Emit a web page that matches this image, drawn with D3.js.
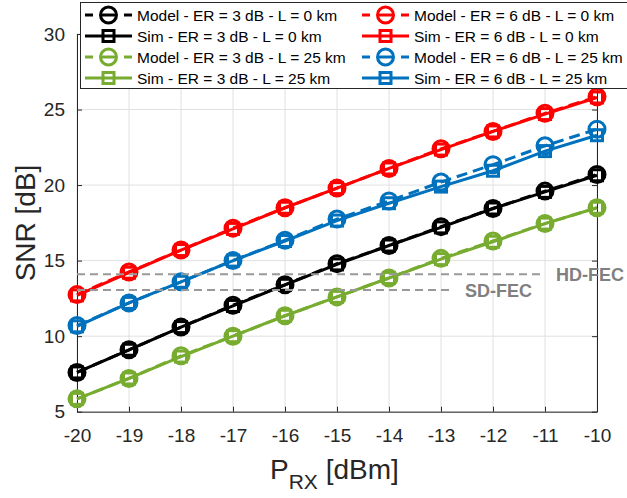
<!DOCTYPE html>
<html><head><meta charset="utf-8">
<script src="https://cdn.jsdelivr.net/npm/d3@7/dist/d3.min.js"></script>
<style>body{margin:0;background:#fff;} svg{display:block;font-family:"Liberation Sans",Arial,Helvetica,sans-serif;}</style>
</head><body><svg id="c" width="627" height="498"></svg>
<script>
const pRx = [-20, -19, -18, -17, -16, -15, -14, -13, -12, -11, -10];
const xTicks = [-20, -19, -18, -17, -16, -15, -14, -13, -12, -11, -10];
const yTicks = [5, 10, 15, 20, 25, 30];
const modelER3L0  = [7.6, 9.1, 10.6, 12.05, 13.4, 14.8, 16.0, 17.25, 18.45, 19.6, 20.7];
const simER3L0    = [7.6, 9.1, 10.6, 12.0, 13.4, 14.75, 16.0, 17.2, 18.45, 19.55, 20.65];
const modelER3L25 = [5.85, 7.2, 8.7, 10.0, 11.35, 12.6, 13.85, 15.15, 16.3, 17.45, 18.5];
const simER3L25   = [5.85, 7.2, 8.65, 10.0, 11.35, 12.6, 13.85, 15.1, 16.25, 17.45, 18.5];
const modelER6L0  = [12.75, 14.25, 15.7, 17.15, 18.5, 19.8, 21.1, 22.4, 23.55, 24.75, 25.85];
const simER6L0    = [12.7, 14.2, 15.7, 17.1, 18.5, 19.8, 21.1, 22.35, 23.55, 24.7, 25.8];
const modelER6L25 = [10.7, 12.2, 13.6, 15.0, 16.35, 17.75, 18.95, 20.2, 21.35, 22.6, 23.7];
const simER6L25   = [10.65, 12.2, 13.6, 15.0, 16.3, 17.65, 18.8, 19.9, 20.95, 22.25, 23.3];
const seriesNames = ["Model - ER = 3 dB - L = 0 km", "Sim - ER = 3 dB - L = 0 km",
  "Model - ER = 3 dB - L = 25 km", "Sim - ER = 3 dB - L = 25 km",
  "Model - ER = 6 dB - L = 0 km", "Sim - ER = 6 dB - L = 0 km",
  "Model - ER = 6 dB - L = 25 km", "Sim - ER = 6 dB - L = 25 km"];
const fecNames = ["HD-FEC", "SD-FEC"];
const fecLevels = [14.1, 13.05];
const fecEnds = [-11.05, -12.8];

const colors = ["#000000", "#000000", "#77AC30", "#77AC30", "#FF0000", "#FF0000", "#0072BD", "#0072BD"];
const seriesData = [modelER3L0, simER3L0, modelER3L25, simER3L25, modelER6L0, simER6L0, modelER6L25, simER6L25];
const series = seriesNames.map((n, i) => ({
  name: n, values: seriesData[i], color: colors[i], model: i % 2 === 0
}));

const svg = d3.select("#c");
const L = 77, R = 597, T = 34, B = 411.7;
const x = d3.scaleLinear().domain([-20, -10]).range([L, R]);
const y = d3.scaleLinear().domain([5, 30]).range([B, T]);
const axisCol = "#262626";

// grid
const g = svg.append("g");
g.selectAll(".gx").data(xTicks).enter().append("line")
  .attr("x1", d => x(d)).attr("x2", d => x(d)).attr("y1", T).attr("y2", B)
  .attr("stroke", "#e0e0e0").attr("stroke-width", 1);
g.selectAll(".gy").data(yTicks).enter().append("line")
  .attr("x1", L).attr("x2", R).attr("y1", d => y(d)).attr("y2", d => y(d))
  .attr("stroke", "#e0e0e0").attr("stroke-width", 1);

// axes
function styleAxis(sel) {
  sel.select(".domain").attr("stroke", axisCol).attr("stroke-width", 1);
  sel.selectAll(".tick line").attr("stroke", axisCol);
  sel.selectAll(".tick text").attr("fill", axisCol).style("font-size", "19px")
    .style("font-family", '"Liberation Sans",Arial,sans-serif');
}
const fmt = d => String(d);
const xa = svg.append("g").attr("transform", `translate(0,${B})`)
  .call(d3.axisBottom(x).tickValues(xTicks).tickFormat(fmt).tickSize(-5).tickPadding(17).tickSizeOuter(0));
styleAxis(xa);
const ya = svg.append("g").attr("transform", `translate(${L},0)`)
  .call(d3.axisLeft(y).tickValues(yTicks).tickFormat(fmt).tickSize(-5).tickPadding(12).tickSizeOuter(0));
styleAxis(ya);
const xt = svg.append("g").attr("transform", `translate(0,${T})`)
  .call(d3.axisTop(x).tickValues(xTicks).tickSize(-5).tickFormat("").tickSizeOuter(0));
styleAxis(xt);
const yr = svg.append("g").attr("transform", `translate(${R},0)`)
  .call(d3.axisRight(y).tickValues(yTicks).tickSize(-5).tickFormat("").tickSizeOuter(0));
styleAxis(yr);

// series
const line = d3.line().x((d, i) => x(pRx[i])).y(d => y(d));
function drawMarker(sel, s, cx, cy) {
  if (s.model) {
    sel.append("circle").attr("cx", cx).attr("cy", cy).attr("r", 8)
      .attr("fill", "none").attr("stroke", s.color).attr("stroke-width", 3);
  } else {
    sel.append("rect").attr("x", cx - 5.5).attr("y", cy - 5.5).attr("width", 11).attr("height", 11)
      .attr("fill", "none").attr("stroke", s.color).attr("stroke-width", 3);
  }
}
series.forEach(s => {
  const sg = svg.append("g");
  sg.append("path").datum(s.values).attr("d", line).attr("fill", "none")
    .attr("stroke", s.color).attr("stroke-width", 3)
    .attr("stroke-dasharray", s.model ? "11,6" : null);
  s.values.forEach((v, i) => drawMarker(sg, s, x(pRx[i]), y(v)));
});

// FEC thresholds
fecLevels.forEach((lv, i) => {
  svg.append("line").attr("x1", x(-20)).attr("x2", x(fecEnds[i]))
    .attr("y1", y(lv)).attr("y2", y(lv))
    .attr("stroke", "#999999").attr("stroke-width", 2).attr("stroke-dasharray", "8,5");
});
svg.append("text").attr("x", 556).attr("y", y(fecLevels[0]) + 6.5).text(fecNames[0])
  .attr("fill", "#808080").style("font-size", "18px").style("font-weight", "bold");
svg.append("text").attr("x", 465).attr("y", y(fecLevels[1]) + 6.5).text(fecNames[1])
  .attr("fill", "#808080").style("font-size", "18px").style("font-weight", "bold");

// axis labels
svg.append("text").attr("transform", "translate(35,223) rotate(-90)")
  .attr("text-anchor", "middle").attr("fill", axisCol).style("font-size", "28px").text("SNR [dB]");
const xl = svg.append("text").attr("x", 270).attr("y", 479).attr("fill", axisCol).style("font-size", "28px");
xl.append("tspan").text("P");
xl.append("tspan").attr("dy", 10).style("font-size", "21px").text("RX");
xl.append("tspan").attr("dy", -10).text(" [dBm]");

// legend
const lg = svg.append("g");
lg.append("rect").attr("x", 80.5).attr("y", 2.5).attr("width", 570).attr("height", 86)
  .attr("fill", "#fff").attr("stroke", axisCol).attr("stroke-width", 1);
const rowY = [15, 36, 57, 78];
const colX = [85, 362];
series.forEach((s, i) => {
  const col = i < 4 ? 0 : 1, row = i % 4;
  const x0 = colX[col], yy = rowY[row];
  const eg = lg.append("g");
  if (s.model) {
    eg.append("line").attr("x1", x0).attr("x2", x0 + 8).attr("y1", yy).attr("y2", yy)
      .attr("stroke", s.color).attr("stroke-width", 3);
    eg.append("line").attr("x1", x0 + 15).attr("x2", x0 + 32).attr("y1", yy).attr("y2", yy)
      .attr("stroke", s.color).attr("stroke-width", 3);
    eg.append("line").attr("x1", x0 + 39).attr("x2", x0 + 47).attr("y1", yy).attr("y2", yy)
      .attr("stroke", s.color).attr("stroke-width", 3);
  } else {
    eg.append("line").attr("x1", x0).attr("x2", x0 + 47).attr("y1", yy).attr("y2", yy)
      .attr("stroke", s.color).attr("stroke-width", 3);
  }
  drawMarker(eg, s, x0 + 23.5, yy);
  eg.append("text").attr("x", x0 + 52).attr("y", yy + 5.8).attr("fill", "#000")
    .style("font-size", "15.5px").text(s.name);
});
</script></body></html>
